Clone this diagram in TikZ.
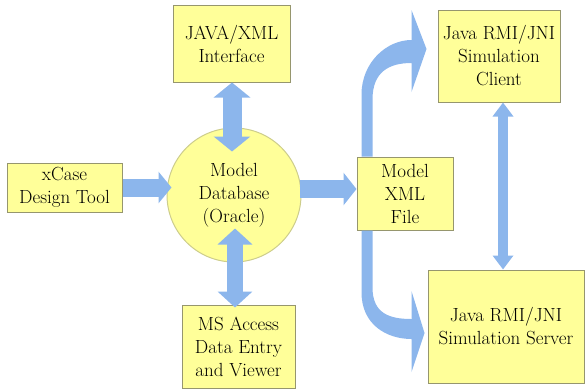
\documentclass[tikz,border=0pt]{standalone}
\usetikzlibrary{arrows.meta,calc}
\definecolor{boxfill}{RGB}{255,255,153}
\definecolor{boxline}{RGB}{150,150,110}
\definecolor{circline}{RGB}{205,205,140}
\definecolor{arrowblue}{RGB}{140,182,236}
\begin{document}
\begin{tikzpicture}[x=1pt,y=-1pt,
  box/.style={draw=boxline,fill=boxfill,line width=1pt,align=center,
    font=\rmfamily\fontsize{19}{23}\selectfont,inner sep=0pt},
  dbcircle/.style={draw=circline,fill=boxfill,line width=1pt,circle,align=center,
    font=\rmfamily\fontsize{19}{23}\selectfont,inner sep=0pt},
  fatarrow/.style={draw=arrowblue,line width=#1},
  curvefill/.style={fill=arrowblue,draw=none}]
\useasboundingbox (0,0) rectangle (585,389);

\node[box,minimum width=117pt,minimum height=77pt] (java) at (231.5,43.5) {JAVA/XML\\Interface};
\node[box,minimum width=115pt,minimum height=49pt] (xcase) at (64.5,187.5) {xCase\\Design Tool};
\node[dbcircle,minimum size=134pt] (circ) at (234,195) {Model\\Database\\(Oracle)};
\node[box,minimum width=113pt,minimum height=83pt] (ms) at (238.5,346.5) {MS Access\\Data Entry\\and Viewer};
\node[box,minimum width=96pt,minimum height=73pt] (xml) at (405,193.5) {Model\\XML\\File};
\node[box,minimum width=122pt,minimum height=92pt] (client) at (499,56) {Java RMI/JNI\\Simulation\\Client};
\node[box,minimum width=156pt,minimum height=113pt] (server) at (506,326.5) {Java RMI/JNI\\Simulation Server};

% straight fat arrows
\draw[fatarrow=18pt,-{Triangle[width=31pt,length=13pt]}]
  (xcase.east) -- ($(xcase.east -| circ.west)+(5,0)$);
\draw[fatarrow=18pt,-{Triangle[width=32pt,length=13pt]}]
  ($(circ.east)+(-2,-6)$) -- ($(xml.west)+(0,-4.5)$);
\draw[fatarrow=19pt,{Triangle[width=36pt,length=15pt]}-{Triangle[width=36pt,length=15pt]}]
  ($(java.south)+(0.5,0)$) -- ($(circ.north)+(-2,24)$);
\draw[fatarrow=16pt,{Triangle[width=34pt,length=16pt]}-{Triangle[width=34pt,length=16pt]}]
  ($(circ.south)+(1,-34)$) -- ($(ms.north)+(-3.5,3)$);
\draw[fatarrow=10pt,{Triangle[width=20pt,length=14pt]}-{Triangle[width=20pt,length=14pt]}]
  ($(client.south)+(4,0)$) -- ($(server.north)+(-3,0)$);

% curved arrow up to the client
\coordinate (tA) at ($(xml.north west)+(5,0)$);
\coordinate (tipC) at ($(client.west)+(-11,-7)$);
\path[curvefill] (tA) -- ++(0,-62)
  .. controls ++(0,-32) and ++(-25,0) .. ($(tipC)+(-15,-9)$)
  -- ($(tipC)+(-15,-39)$) -- (tipC) -- ($(tipC)+(-15,43)$)
  -- ($(tipC)+(-15,14)$)
  .. controls ++(-22,0) and ++(0,-28) .. ($(tA)+(11,-57)$)
  -- ($(tA)+(11,0)$) -- cycle;

% curved arrow down to the server
\coordinate (bA) at ($(xml.south west)+(5,0)$);
\coordinate (tipS) at ($(server.west)+(-3,6.5)$);
\path[curvefill] (bA) -- ++(0,62)
  .. controls ++(0,32) and ++(-25,0) .. ($(tipS)+(-13,6)$)
  -- ($(tipS)+(-13,39)$) -- (tipS) -- ($(tipS)+(-13,-42)$)
  -- ($(tipS)+(-13,-14)$)
  .. controls ++(-22,0) and ++(0,26) .. ($(bA)+(11,57)$)
  -- ($(bA)+(11,0)$) -- cycle;
\end{tikzpicture}
\end{document}
